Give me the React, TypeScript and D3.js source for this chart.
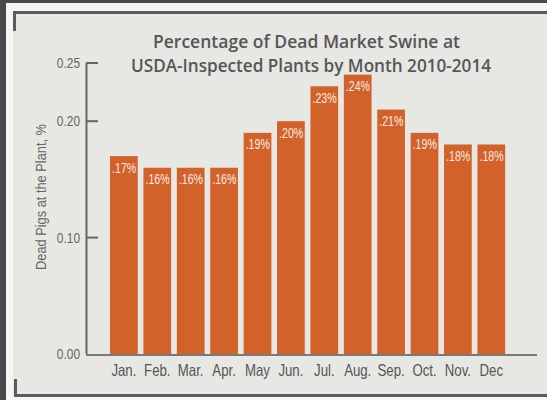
import React from "react";
import * as d3 from "d3";

const months = ["Jan.", "Feb.", "Mar.", "Apr.", "May", "Jun.", "Jul.", "Aug.", "Sep.", "Oct.", "Nov.", "Dec"];
const values = [0.17, 0.16, 0.16, 0.16, 0.19, 0.2, 0.23, 0.24, 0.21, 0.19, 0.18, 0.18];
const valueLabels = [".17%", ".16%", ".16%", ".16%", ".19%", ".20%", ".23%", ".24%", ".21%", ".19%", ".18%", ".18%"];
const yTicks = [0, 0.1, 0.2, 0.25];
const titleLines = ["Percentage of Dead Market Swine at", "USDA-Inspected Plants by Month 2010-2014"];
const yAxisTitle = "Dead Pigs at the Plant, %";

const W = 547;
const H = 400;
const SANS = "'Liberation Sans', Arial, sans-serif";

export default function App() {
  const x = d3.scaleBand<string>().domain(months).range([107.2, 508]).paddingInner(0.17).paddingOuter(0.085);
  const y = d3.scaleLinear().domain([0, 0.25]).range([354, 63]);
  const fmt = d3.format(".2f");
  const bar = "#d3622a";
  const frame = "#5b5b5d";
  return (
    <svg width={W} height={H} style={{ position: "absolute", left: 0, top: 0, display: "block" }}>
      <rect x={0} y={0} width={W} height={H} fill="#48484c" />
      <rect x={6} y={3} width={W - 6} height={H - 3} fill="#f5f5f3" />
      <rect x={13} y={11} width={W - 13} height={386} fill="#e7e7e3" />
      {/* frame corners */}
      <line x1={13} x2={W} y1={12.5} y2={12.5} stroke={frame} strokeWidth={3} />
      <line x1={14.5} x2={14.5} y1={11} y2={31} stroke={frame} strokeWidth={3} />
      <line x1={14} x2={W} y1={395.5} y2={395.5} stroke={frame} strokeWidth={3} />
      <line x1={15.5} x2={15.5} y1={379} y2={397} stroke={frame} strokeWidth={3} />

      {/* title */}
      <g fontFamily="'Open Sans', sans-serif" fontWeight={600} fontSize={17.5} fill="#565656">
        <text x={153} y={48} textLength={307} lengthAdjust="spacingAndGlyphs">{titleLines[0]}</text>
        <text x={131} y={72} textLength={360} lengthAdjust="spacingAndGlyphs">{titleLines[1]}</text>
      </g>

      {/* bars */}
      {months.map((m, i) => (
        <g key={m}>
          <rect x={x(m)} y={y(values[i])} width={x.bandwidth()} height={y(0) - y(values[i])} fill={bar} />
          <text
            transform={`translate(${(x(m) as number) + 2},${y(values[i]) + 16.5}) scale(0.76,1)`}
            fontFamily={SANS}
            fontSize={14}
            fill="#f6ece3"
          >
            {valueLabels[i]}
          </text>
        </g>
      ))}

      {/* y axis */}
      <line x1={86.5} x2={86.5} y1={y(0.25)} y2={y(0)} stroke="#666" strokeWidth={2} />
      {yTicks.map((t) => (
        <g key={t}>
          {t > 0 && <line x1={86} x2={98} y1={y(t)} y2={y(t)} stroke="#666" strokeWidth={2} />}
          <text
            transform={`translate(80,${y(t) + 5}) scale(0.85,1)`}
            textAnchor="end"
            fontFamily={SANS}
            fontSize={14}
            fill="#666"
          >
            {fmt(t)}
          </text>
        </g>
      ))}
      <text
        transform={`translate(46,197) rotate(-90)`}
        textAnchor="middle"
        fontFamily={SANS}
        fontSize={15.5}
        textLength={146}
        lengthAdjust="spacingAndGlyphs"
        fill="#666"
      >
        {yAxisTitle}
      </text>

      {/* x axis */}
      <line x1={86} x2={537} y1={355} y2={355} stroke="#555" strokeWidth={1.5} />
      {months.map((m) => (
        <text
          key={m}
          transform={`translate(${(x(m) as number) + x.bandwidth() / 2},376) scale(0.8,1)`}
          textAnchor="middle"
          fontFamily={SANS}
          fontSize={16.5}
          fill="#555"
        >
          {m}
        </text>
      ))}
    </svg>
  );
}
